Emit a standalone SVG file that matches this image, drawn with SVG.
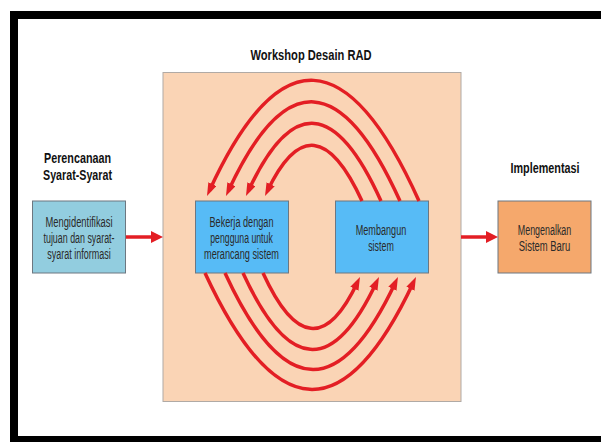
<svg xmlns="http://www.w3.org/2000/svg" width="601" height="442" viewBox="0 0 601 442">
<style>
.title{font-family:"Liberation Sans",Arial,sans-serif;font-weight:bold;font-size:15px;fill:#111;text-anchor:middle}
.lbl{font-family:"Liberation Sans",Arial,sans-serif;font-size:14px;fill:#2a2a2a;text-anchor:middle}
.box{stroke:#6d7780;stroke-width:1}
.arc{fill:none;stroke:#E31E24;stroke-width:3.5}
.st{fill:none;stroke:#E31E24;stroke-width:3.5}
</style>
<defs>
<marker id="ah" markerUnits="userSpaceOnUse" markerWidth="13" markerHeight="9" refX="7" refY="4.5" orient="auto">
<path d="M0,0 L13,4.5 L0,9 z" fill="#E31E24"/>
</marker>
<marker id="ahs" markerUnits="userSpaceOnUse" markerWidth="12" markerHeight="12" refX="5" refY="6" orient="auto">
<path d="M0,0 L12,6 L0,12 z" fill="#E31E24"/>
</marker>
</defs>
<rect x="0" y="0" width="601" height="442" fill="#fff"/>
<path d="M14,442 L14,15 L601,15 M14,440 L601,440" fill="none" stroke="#000" stroke-width="8"/>

<g id="workshop">
<rect x="163" y="72.5" width="298" height="329" fill="#FAD4B5" stroke="#b0aaa5" stroke-width="1"/>
<text class="title" x="311" y="59.5" textLength="121" lengthAdjust="spacingAndGlyphs">Workshop Desain RAD</text>
</g>

<g id="perencanaan">
<text class="title" x="77.5" y="163" textLength="67" lengthAdjust="spacingAndGlyphs">Perencanaan</text>
<text class="title" x="77.5" y="180" textLength="69" lengthAdjust="spacingAndGlyphs">Syarat-Syarat</text>
<rect class="box" x="32.5" y="201" width="93" height="72" fill="#92CDDF"/>
<text class="lbl" x="79" y="226.5" textLength="67" lengthAdjust="spacingAndGlyphs">Mengidentifikasi</text>
<text class="lbl" x="79" y="242.5" textLength="71" lengthAdjust="spacingAndGlyphs">tujuan dan syarat-</text>
<text class="lbl" x="79" y="258.5" textLength="63.5" lengthAdjust="spacingAndGlyphs">syarat informasi</text>
</g>

<g id="bekerja">
<rect class="box" x="195.5" y="201" width="93" height="72" fill="#57BBF6"/>
<text class="lbl" x="241.5" y="227" textLength="64" lengthAdjust="spacingAndGlyphs">Bekerja dengan</text>
<text class="lbl" x="241.5" y="243" textLength="62.5" lengthAdjust="spacingAndGlyphs">pengguna untuk</text>
<text class="lbl" x="241.5" y="259" textLength="75" lengthAdjust="spacingAndGlyphs">merancang sistem</text>
</g>

<g id="membangun">
<rect class="box" x="335.5" y="201" width="93" height="72" fill="#57BBF6"/>
<text class="lbl" x="381" y="235" textLength="50.5" lengthAdjust="spacingAndGlyphs">Membangun</text>
<text class="lbl" x="381" y="251" textLength="25.6" lengthAdjust="spacingAndGlyphs">sistem</text>
</g>

<g id="implementasi">
<text class="title" x="545" y="173" textLength="69" lengthAdjust="spacingAndGlyphs">Implementasi</text>
<rect class="box" x="498" y="201" width="93" height="72" fill="#F5A86C"/>
<text class="lbl" x="544.5" y="235" textLength="53.5" lengthAdjust="spacingAndGlyphs">Mengenalkan</text>
<text class="lbl" x="544.5" y="251" textLength="51.5" lengthAdjust="spacingAndGlyphs">Sistem Baru</text>
</g>

<g id="connectors">
<path class="st" d="M126,237 L156,237" marker-end="url(#ahs)"/>
<path class="st" d="M461,237 L491,237" marker-end="url(#ahs)"/>
<path class="arc" d="M419,201 Q313,-35 209.5,190.5" marker-end="url(#ah)"/>
<path class="arc" d="M400,201 Q313,8 228.5,190.6" marker-end="url(#ah)"/>
<path class="arc" d="M381,201 Q313.5,51 248.5,190.6" marker-end="url(#ah)"/>
<path class="arc" d="M362,201 Q313.5,95 267.6,190.6" marker-end="url(#ah)"/>
<path class="arc" d="M205,273 Q310.5,501 413.4,282.4" marker-end="url(#ah)"/>
<path class="arc" d="M225,273 Q311.5,461 395.4,282.4" marker-end="url(#ah)"/>
<path class="arc" d="M243,273 Q311,421 376.4,282.4" marker-end="url(#ah)"/>
<path class="arc" d="M263,273 Q311.5,379 357.4,282.4" marker-end="url(#ah)"/>
</g>
</svg>
